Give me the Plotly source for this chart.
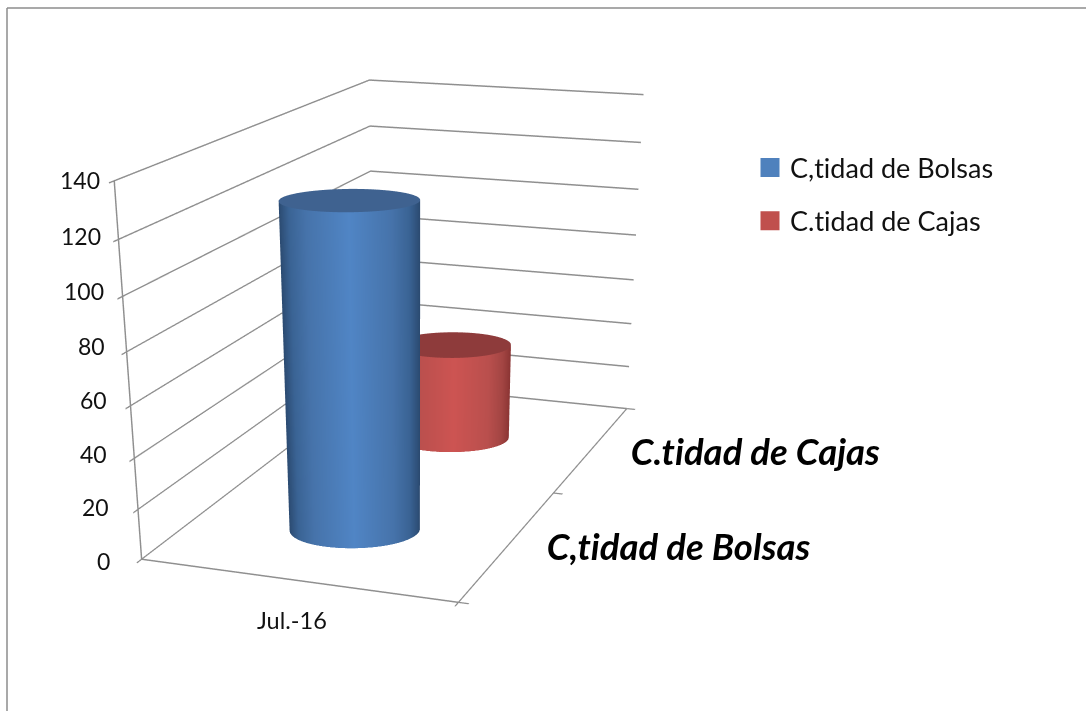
import numpy as np
import plotly.graph_objects as go

series_names = ["C,tidad de Bolsas", "C.tidad de Cajas"]
series_values = [127, 42]
category_labels = ["Jul.-16"]
z_ticks = [0, 20, 40, 60, 80, 100, 120, 140]
blue_scale = [[0, "#2b4a70"], [0.08, "#3a6394"], [0.2, "#4673aa"], [0.5, "#5085c5"],
              [0.8, "#4673aa"], [0.92, "#3a6394"], [1, "#2b4a70"]]
red_scale = [[0, "#8a3433"], [0.08, "#a34543"], [0.2, "#b94f4d"], [0.5, "#cd5452"],
             [0.8, "#b94f4d"], [0.92, "#a34543"], [1, "#8a3433"]]
cap_colors = ["#3f6290", "#8e3b3b"]
swatch_colors = ["#4f81bd", "#c0504d"]
bar_centers_x = [0.51, 0.5]
bar_centers_y = [0.46, 1.45]
label_xshift = [-30, -27, -25, -22, -20, -17, -15, -12]
label_yshift = [-2, 2, 4, 6, 6, 5, 3, 1]

PAGE_W, PAGE_H = 1086, 1600
FONT = "Lato"


def py(v):
    return 1 - v / PAGE_H


s = np.linspace(0, 2 * np.pi, 121)
dx = 0.1886 * np.cos(s) + 0.0573 * np.sin(s)
dy = 0.0754 * np.cos(s) - 0.1571 * np.sin(s)

fig = go.Figure()
flat = dict(ambient=1, diffuse=0, specular=0, fresnel=0, roughness=1)
for i, v in enumerate(series_values):
    cs = blue_scale if i == 0 else red_scale
    xc, yc = bar_centers_x[i], bar_centers_y[i]
    X = np.vstack([xc + dx, xc + dx])
    Y = np.vstack([yc + dy, yc + dy])
    Z = np.vstack([np.zeros_like(s), np.full_like(s, v)])
    C = np.vstack([np.cos(s), np.cos(s)])
    fig.add_trace(go.Surface(x=X, y=Y, z=Z, surfacecolor=C, cmin=-1, cmax=1, colorscale=cs,
                             showscale=False, lighting=flat, hoverinfo="skip", showlegend=False))
    r = np.array([0.0, 1.0])[:, None]
    capx = xc + r * dx
    capy = yc + r * dy
    capz = np.full_like(capx, v)
    fig.add_trace(go.Surface(x=capx, y=capy, z=capz, surfacecolor=np.zeros_like(capx), cmin=0, cmax=1,
                             colorscale=[[0, cap_colors[i]], [1, cap_colors[i]]],
                             showscale=False, lighting=flat, hoverinfo="skip", showlegend=False))
    fig.add_trace(go.Scatter3d(x=[None], y=[None], z=[None], mode="markers", name=series_names[i],
                               legendgroup=series_names[i],
                               marker=dict(symbol="square", size=16, color=swatch_colors[i],
                                           line=dict(color=swatch_colors[i], width=3))))

LINE = "#8f8f8f"
common = dict(showbackground=False, showspikes=False, title="", zeroline=False,
              showline=True, linecolor=LINE, linewidth=3, ticks="outside", tickcolor=LINE,
              ticklen=8, tickwidth=3)
bold = dict(family=FONT, size=36.5, color="black", weight="bold", style="italic")
annotations = [
    dict(x=0.5, y=0, z=0, text=category_labels[0], showarrow=False, xshift=-4, yshift=-40,
         font=dict(family=FONT, size=23.5, color="#111111")),
    dict(x=1, y=1.5, z=0, text=series_names[1], showarrow=False, xanchor="left", xshift=37, yshift=-3, font=bold),
    dict(x=1, y=0.5, z=0, text=series_names[0], showarrow=False, xanchor="left", xshift=36, yshift=-2, font=bold),
]
for t, xs, ys in zip(z_ticks, label_xshift, label_yshift):
    annotations.append(dict(x=0, y=0, z=t, text=str(t), showarrow=False, xanchor="right",
                            xshift=xs, yshift=ys,
                            font=dict(family=FONT, size=23, color="#111111")))
fig.update_layout(
    width=PAGE_W, height=PAGE_H, autosize=False,
    margin=dict(l=0, r=0, t=0, b=0), paper_bgcolor="white",
    font=dict(family=FONT, color="#111111"),
    scene=dict(
        domain=dict(x=[0, 834 / PAGE_W], y=[0, 1]),
        aspectmode="manual", aspectratio=dict(x=1, y=1.9598, z=1.0981),
        camera=dict(eye=dict(x=2.0918, y=-5.821, z=1.5721),
                    center=dict(x=-0.2064, y=0.6596, z=-2.1531),
                    up=dict(x=0, y=0, z=1), projection=dict(type="perspective")),
        xaxis=dict(range=[0, 1], tickvals=[0, 1], ticktext=["", ""], showgrid=False, **common),
        yaxis=dict(range=[0, 2], tickvals=[0, 1, 2], ticktext=["", "", ""], showgrid=False, **common),
        zaxis=dict(range=[0, 140], tickvals=z_ticks, ticktext=[""] * len(z_ticks), showgrid=True,
                   gridcolor=LINE, gridwidth=3, **common),
        annotations=annotations,
    ),
    legend=dict(x=750 / PAGE_W, y=py(143.5), xanchor="left", yanchor="top",
                font=dict(family=FONT, size=27, color="#111111"), tracegroupgap=15,
                bgcolor="rgba(0,0,0,0)", itemsizing="trace"),
    shapes=[
        dict(type="line", xref="paper", yref="paper", x0=7 / PAGE_W, x1=1, y0=py(8), y1=py(8),
             line=dict(color="#8c8c8c", width=1.5)),
        dict(type="line", xref="paper", yref="paper", x0=7 / PAGE_W, x1=7 / PAGE_W, y0=py(8), y1=py(711),
             line=dict(color="#8c8c8c", width=1.5)),
    ],
)
fig.write_html("out.html", config=dict(displayModeBar=False), post_script=(
    "document.body.style.margin='0';document.body.style.overflow='hidden';"
    "document.documentElement.style.overflow='hidden';"
    "var st=document.createElement('style');"
    "st.textContent='text{font-variant-ligatures:none !important;font-feature-settings:\"liga\" 0,\"clig\" 0 !important;letter-spacing:0.01px;}';"
    "document.head.appendChild(st);"))
